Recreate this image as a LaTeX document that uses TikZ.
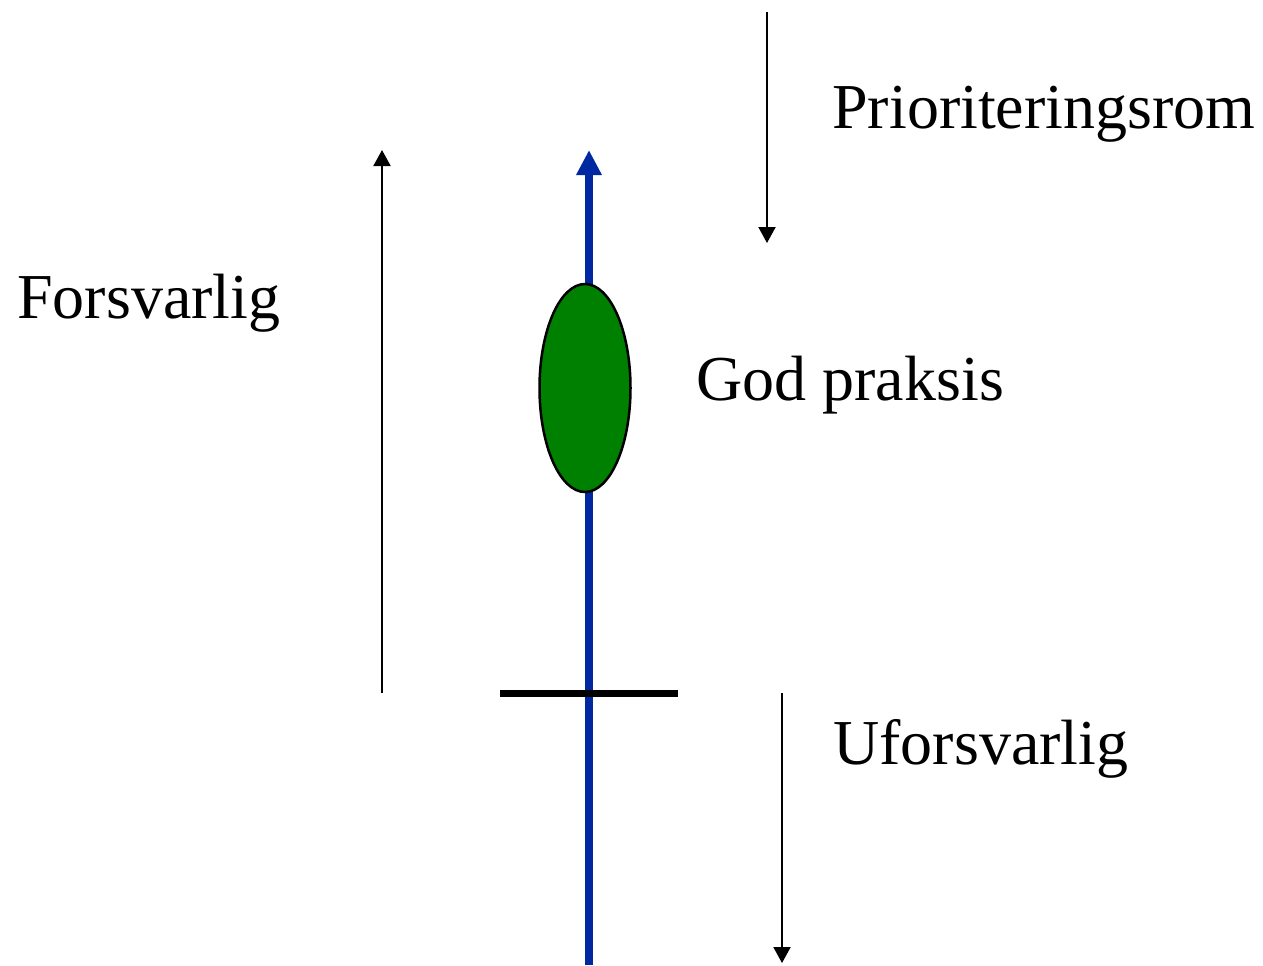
\documentclass[tikz,border=0pt]{standalone}
\usepackage{fontspec}
\setmainfont{Liberation Serif}
\usetikzlibrary{arrows.meta,shapes.geometric}
\definecolor{royal}{RGB}{0,40,160}
\definecolor{leaf}{RGB}{0,128,0}
\tikzset{
  label text/.style={anchor=base west,inner sep=0pt,font=\fontsize{32}{38}\selectfont},
  scale arrow/.style={-{Triangle[length=8pt,width=8.5pt]},line width=1pt,draw=black},
  axis arrow/.style={-{Triangle[length=12.5pt,width=12pt]},line width=4pt,draw=royal},
  practice/.style={ellipse,draw=black,line width=1.25pt,fill=leaf,minimum width=45.5pt,
    minimum height=104pt,inner sep=0pt},
  limit/.style={line width=3.5pt,draw=black},
}
\begin{document}
\begin{tikzpicture}[x=0.5pt,y=-0.5pt]
  \useasboundingbox (0,0) rectangle (1263,965);
  % main axis and the limit mark
  \coordinate (axisfoot) at (589,965);
  \coordinate (axistop) at (589,150);
  \draw[axis arrow] (axisfoot) -- (axistop);
  \coordinate (limL) at (500,693);
  \coordinate (limR) at (678,693);
  \draw[limit] (limL) -- (limR);
  \node[practice] (god) at (585,388) {};
  % side arrows
  \coordinate (fbot) at (382,693);
  \coordinate (ftop) at (382,150);
  \draw[scale arrow] (fbot) -- (ftop);
  \coordinate (ptop) at (767,12);
  \coordinate (pbot) at (767,243);
  \draw[scale arrow] (ptop) -- (pbot);
  \coordinate (utop) at (782,693);
  \coordinate (ubot) at (782,963);
  \draw[scale arrow] (utop) -- (ubot);
  % labels
  \node[label text] (prio) at (832,128) {Prioriteringsrom};
  \node[label text] (forsv) at (17,318) {Forsvarlig};
  \node[label text] (godtxt) at (696,400) {God praksis};
  \node[label text] (ufors) at (833,764) {Uforsvarlig};
\end{tikzpicture}
\end{document}
